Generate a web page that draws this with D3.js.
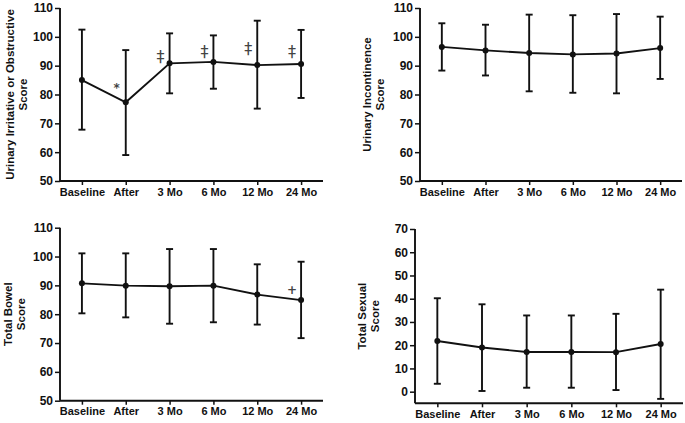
<!DOCTYPE html>
<html><head><meta charset="utf-8">
<script src="https://cdn.jsdelivr.net/npm/d3@7"></script>
<style>
body{margin:0;background:#fff;}
svg{display:block;}
text{font-family:"Liberation Sans",Arial,sans-serif;font-weight:bold;fill:#111;}
</style></head>
<body>
<svg id="c" width="685" height="423"></svg>
<script>
const categories = ["Baseline","After","3 Mo","6 Mo","12 Mo","24 Mo"];

const irritMean  = [85.0, 77.3, 90.8, 91.3, 90.2, 90.6];
const irritUpper = [102.5, 95.4, 101.2, 100.5, 105.6, 102.4];
const irritLower = [67.8, 59.0, 80.4, 82.0, 75.1, 78.8];

const incontMean  = [96.5, 95.3, 94.4, 93.9, 94.2, 96.1];
const incontUpper = [104.7, 104.2, 107.7, 107.5, 107.9, 107.0];
const incontLower = [88.3, 86.6, 81.1, 80.6, 80.4, 85.4];

const bowelMean  = [90.7, 89.9, 89.7, 89.9, 86.8, 84.9];
const bowelUpper = [101.1, 101.1, 102.6, 102.6, 97.3, 98.2];
const bowelLower = [80.3, 78.9, 76.7, 77.2, 76.4, 71.7];

const sexualMean  = [21.8, 19.0, 17.1, 17.1, 17.0, 20.5];
const sexualUpper = [40.2, 37.6, 32.8, 32.8, 33.5, 43.9];
const sexualLower = [3.4, 0.3, 1.7, 1.7, 0.7, -3.1];

const scoreTicks  = [50, 60, 70, 80, 90, 100, 110];
const sexualTicks = [0, 10, 20, 30, 40, 50, 60, 70];

const irritMarks = [
  {cat:"After", v:82.4, s:"*"},
  {cat:"3 Mo", v:93.0, s:"‡"},
  {cat:"6 Mo", v:94.7, s:"‡"},
  {cat:"12 Mo", v:95.8, s:"‡"},
  {cat:"24 Mo", v:94.7, s:"‡"}
];
const bowelMarks = [{cat:"24 Mo", v:88.4, s:"+"}];

const svg = d3.select("#c");

function panel(o){
  const x = d3.scalePoint().domain(categories).range([o.x0, o.x1]).padding(0.5);
  const y = d3.scaleLinear().domain(o.domain).range([o.y0, o.y1]);
  const g = svg.append("g");

  const ya = g.append("g").attr("transform",`translate(${o.x0},0)`)
    .call(d3.axisLeft(y).tickValues(o.ticks).tickSize(5).tickPadding(2).tickFormat(d3.format("d")));
  ya.selectAll("text").style("font-size","12px");
  const xa = g.append("g").attr("transform",`translate(0,${o.y0})`)
    .call(d3.axisBottom(x).tickSize(4).tickPadding(3));
  xa.selectAll("text").style("font-size","11px");
  g.selectAll(".domain").attr("stroke","#111").attr("stroke-width",1.9);
  g.selectAll(".tick line").attr("stroke","#111").attr("stroke-width",1.5);
  ya.select(".domain").attr("d",`M0,${o.y0}V${o.y1}`);
  xa.select(".domain").attr("d",`M${o.x0},0H${o.x1}`);

  const rows = categories.map((c,i)=>({c, m:o.mean[i], hi:o.upper[i], lo:o.lower[i]}));
  const cap = 3.5;
  const eb = g.append("g").attr("stroke","#111").attr("stroke-width",1.9);
  eb.selectAll(".v").data(rows).join("line")
    .attr("x1",d=>x(d.c)).attr("x2",d=>x(d.c)).attr("y1",d=>y(d.hi)).attr("y2",d=>y(d.lo));
  eb.selectAll(".t").data(rows).join("line")
    .attr("x1",d=>x(d.c)-cap).attr("x2",d=>x(d.c)+cap).attr("y1",d=>y(d.hi)).attr("y2",d=>y(d.hi));
  eb.selectAll(".b").data(rows).join("line")
    .attr("x1",d=>x(d.c)-cap).attr("x2",d=>x(d.c)+cap).attr("y1",d=>y(d.lo)).attr("y2",d=>y(d.lo));

  g.append("path").datum(rows)
    .attr("fill","none").attr("stroke","#111").attr("stroke-width",1.9)
    .attr("d", d3.line().x(d=>x(d.c)).y(d=>y(d.m)));
  g.selectAll("circle").data(rows).join("circle")
    .attr("cx",d=>x(d.c)).attr("cy",d=>y(d.m)).attr("r",3).attr("fill","#111");

  if(o.marks){
    g.selectAll(".mk").data(o.marks).join("text")
      .attr("x",d=>x(d.cat)-9).attr("y",d=>y(d.v)+ (d.s==="‡"?5:4.5))
      .attr("text-anchor","middle")
      .style("font-family","'DejaVu Sans',sans-serif")
      .style("font-size", d=>d.s==="‡"?"16px":"12px")
      .style("font-weight", d=>d.s==="‡"?"normal":"bold")
      .style("fill","#444").text(d=>d.s);
  }

  const cy = (o.y0+o.y1)/2;
  const lab = g.append("text").attr("transform",`translate(${o.x0-o.labOff},${cy}) rotate(-90)`)
    .attr("text-anchor","middle").style("font-size","11.5px");
  o.label.forEach((t,i)=>{
    lab.append("tspan").attr("x",0).attr("dy", i===0?0:"1.15em").text(t);
  });
}

panel({x0:60, x1:323, y0:181, y1:8, domain:[50,110], ticks:scoreTicks,
  mean:irritMean, upper:irritUpper, lower:irritLower, marks:irritMarks,
  label:["Urinary Irritative or Obstructive","Score"], labOff:46});
panel({x0:420, x1:682, y0:181, y1:8, domain:[50,110], ticks:scoreTicks,
  mean:incontMean, upper:incontUpper, lower:incontLower,
  label:["Urinary Incontinence","Score"], labOff:49});
panel({x0:60, x1:323, y0:400.7, y1:227.7, domain:[50,110], ticks:scoreTicks,
  mean:bowelMean, upper:bowelUpper, lower:bowelLower, marks:bowelMarks,
  label:["Total Bowel","Score"], labOff:48});
panel({x0:415, x1:683, y0:403.3, y1:229, domain:[-5,70], ticks:sexualTicks,
  mean:sexualMean, upper:sexualUpper, lower:sexualLower,
  label:["Total Sexual","Score"], labOff:49});
</script>
</body></html>
